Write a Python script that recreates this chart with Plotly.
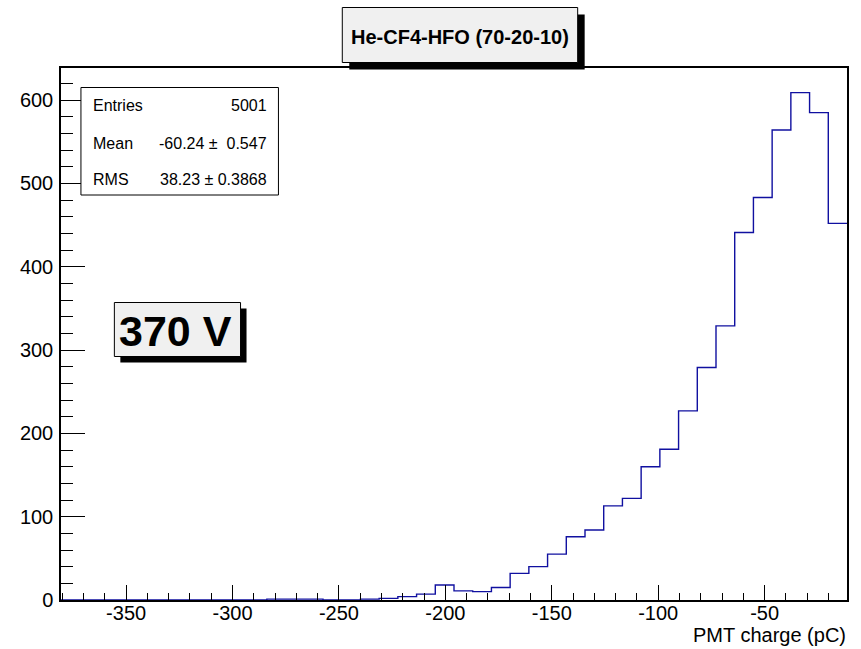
import numpy as np
import plotly.graph_objects as go

# ---- data ----
x_min, x_max, n_bins = -380.6, -11.3, 42
counts = [0, 0, 0, 0, 0, 0, 0, 0, 0, 0, 0,
          1, 1, 1, 0, 0, 1, 2, 4, 7, 18, 11, 10, 15,
          32, 40, 55, 76, 84, 113, 122, 160, 181, 227, 279, 329,
          441, 483, 564, 609, 585, 452]
x_tick_vals = [-350, -300, -250, -200, -150, -100, -50]
x_tick_text = ["-350", "-300", "-250", "-200", "-150", "-100", "-50"]
y_tick_vals = [0, 100, 200, 300, 400, 500, 600]
y_tick_text = ["0", "100", "200", "300", "400", "500", "600"]
title_text = "He-CF4-HFO (70-20-10)"
label_text = "370 V"
x_title = "PMT charge (pC)"
stats_names = ["Entries", "Mean", "RMS"]
stats_values = ["5001", "-60.24 \u00b1  0.547", "38.23 \u00b1 0.3868"]
y_max = 638.5

edges = np.linspace(x_min, x_max, n_bins + 1)
xs = [edges[0]] + list(edges)
ys = [0] + counts + [counts[-1]]

FONT = "Liberation Sans, Arial, Helvetica, sans-serif"

fig = go.Figure()
fig.add_trace(go.Scatter(x=xs, y=ys, mode="lines", line_shape="hv",
                         line=dict(color="#1010a0", width=1.4),
                         hoverinfo="skip", showlegend=False))

# pixel -> paper helpers
L, R, T, B = 61, 849, 68, 600
W, H = R - L, B - T
def px(x):
    return (x - L) / W
def py(y):
    return (B - y) / H

shapes = []
def box(x0, y0, x1, y1, fill, shadow=None):
    if shadow:
        shapes.append(dict(type="rect", xref="paper", yref="paper", layer="above",
                           x0=px(x0 + shadow), x1=px(x1 + shadow),
                           y0=py(y1 + shadow), y1=py(y0 + shadow),
                           fillcolor="black", line=dict(width=0)))
    shapes.append(dict(type="rect", xref="paper", yref="paper", layer="above",
                       x0=px(x0), x1=px(x1), y0=py(y1), y1=py(y0),
                       fillcolor=fill, line=dict(color="black", width=1)))

box(343, 7.5, 579, 62.5, "#f0f0f0", shadow=7)
box(114.5, 302.5, 241, 356.5, "#f0f0f0", shadow=6)
box(81, 87.5, 279, 195, "white")

annotations = [
    dict(text="<b>%s</b>" % title_text, x=px(461), y=py(37), xref="paper", yref="paper",
         showarrow=False, xanchor="center", yanchor="middle",
         font=dict(size=20, color="black", family=FONT)),
    dict(text="<b>%s</b>" % label_text, x=px(176), y=py(331), xref="paper", yref="paper",
         showarrow=False, xanchor="center", yanchor="middle",
         font=dict(size=43, color="black", family=FONT)),
    dict(text=x_title, x=px(850), y=py(635), xref="paper", yref="paper",
         showarrow=False, xanchor="right", yanchor="middle",
         font=dict(size=20, color="black", family=FONT)),
]
for name, val, yy in zip(stats_names, stats_values, [106, 143.5, 179]):
    annotations.append(dict(text=name, x=px(91), y=py(yy), xref="paper", yref="paper",
                            showarrow=False, xanchor="left", yanchor="middle",
                            font=dict(size=16, color="black", family=FONT)))
    annotations.append(dict(text=val.replace("  ", "&nbsp; "), x=px(270), y=py(yy),
                            xref="paper", yref="paper",
                            showarrow=False, xanchor="right", yanchor="middle",
                            font=dict(size=16, color="black", family=FONT)))

fig.update_layout(
    width=861, height=649,
    margin=dict(l=L, r=861 - R, t=T, b=649 - B, pad=0),
    paper_bgcolor="white", plot_bgcolor="white",
    font=dict(family=FONT, size=20, color="black"),
    shapes=shapes, annotations=annotations,
    showlegend=False,
)
fig.update_xaxes(range=[x_min, x_max], tickvals=x_tick_vals, ticktext=x_tick_text,
                 ticks="inside", ticklen=15, tickcolor="black", tickwidth=1,
                 minor=dict(ticks="inside", ticklen=7, dtick=10, tick0=0,
                            tickcolor="black", tickwidth=1, showgrid=False),
                 showline=True, mirror=True, linecolor="black", linewidth=1.5,
                 showgrid=False, zeroline=False, ticklabelstandoff=-6,
                 tickfont=dict(size=20, family=FONT, color="black"))
fig.update_yaxes(range=[0, y_max], tickvals=y_tick_vals, ticktext=y_tick_text,
                 ticks="inside", ticklen=24, tickcolor="black", tickwidth=1,
                 minor=dict(ticks="inside", ticklen=12, dtick=20, tick0=0,
                            tickcolor="black", tickwidth=1, showgrid=False),
                 showline=True, mirror=True, linecolor="black", linewidth=1.5,
                 showgrid=False, zeroline=False, ticklabelstandoff=2,
                 tickfont=dict(size=20, family=FONT, color="black"))

fig.write_html("out.html")
